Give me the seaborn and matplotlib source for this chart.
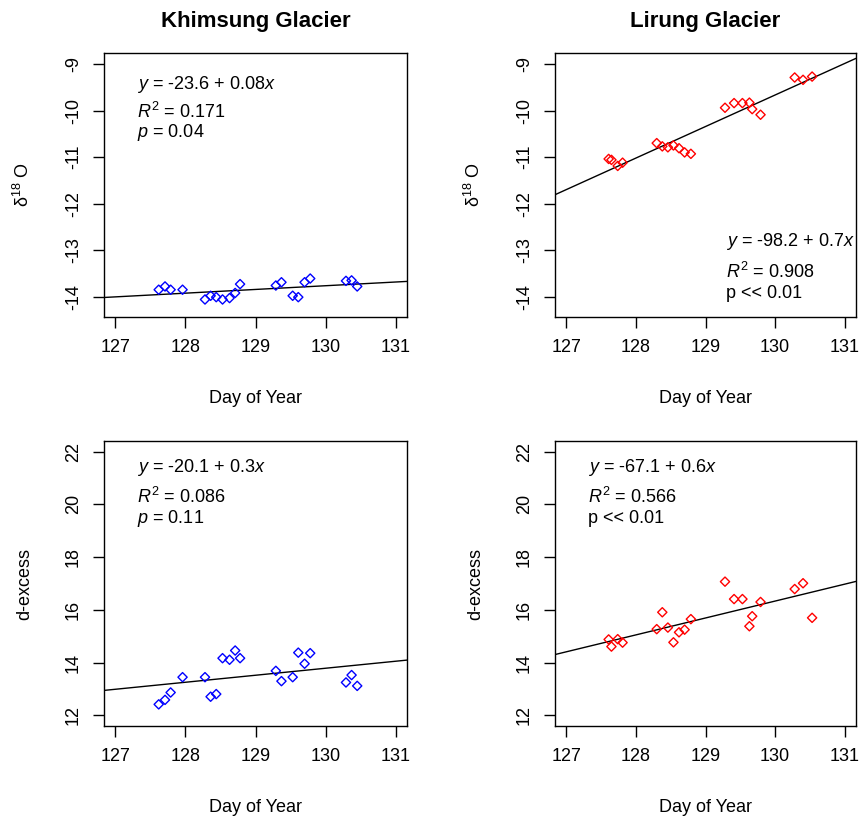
import matplotlib
matplotlib.use("Agg")
import matplotlib.pyplot as plt
import pandas as pd
import seaborn as sns

sns.set_style("white")
plt.rcParams["font.family"] = ["Liberation Sans", "DejaVu Sans"]
plt.rcParams["mathtext.fontset"] = "custom"
plt.rcParams["mathtext.rm"] = "Liberation Sans"
plt.rcParams["mathtext.it"] = "Liberation Sans:italic"
plt.rcParams["mathtext.bf"] = "Liberation Sans:bold"
plt.rcParams["axes.unicode_minus"] = False
for key in ["text.color", "axes.labelcolor", "xtick.color", "ytick.color",
            "axes.edgecolor"]:
    plt.rcParams[key] = "black"

# Sampling times (day of year)
khimsung_day = [127.62, 127.71, 127.79, 127.96,
                128.28, 128.36, 128.44, 128.53, 128.63, 128.71, 128.78,
                129.29, 129.37, 129.53, 129.61, 129.70, 129.78,
                130.29, 130.37, 130.45]
lirung_day = [127.61, 127.65, 127.74, 127.81,
              128.30, 128.38, 128.46, 128.54, 128.62, 128.70, 128.79,
              129.28, 129.41, 129.53, 129.63, 129.67, 129.79,
              130.28, 130.40, 130.53]

# delta 18O (permil)
khimsung_d18o = [-13.85, -13.78, -13.85, -13.85,
                 -14.06, -13.98, -14.01, -14.06, -14.03, -13.92, -13.73,
                 -13.76, -13.69, -13.98, -14.01, -13.69, -13.61,
                 -13.66, -13.65, -13.78]
lirung_d18o = [-11.04, -11.06, -11.19, -11.12,
               -10.70, -10.77, -10.79, -10.75, -10.81, -10.90, -10.93,
               -9.94, -9.84, -9.84, -9.83, -9.97, -10.09,
               -9.29, -9.34, -9.27]

# deuterium excess (permil)
khimsung_dexcess = [12.42, 12.59, 12.87, 13.45,
                    13.45, 12.71, 12.81, 14.17, 14.11, 14.46, 14.17,
                    13.69, 13.30, 13.45, 14.38, 13.96, 14.36,
                    13.25, 13.53, 13.12]
lirung_dexcess = [14.88, 14.61, 14.89, 14.76,
                  15.27, 15.91, 15.33, 14.77, 15.15, 15.25, 15.65,
                  17.07, 16.41, 16.41, 15.38, 15.76, 16.30,
                  16.79, 17.01, 15.70]

titles = ["Khimsung Glacier", "Lirung Glacier"]
colors = ["#0000FF", "#FF0000"]

stats = {
    (0, 0): [r"$y$ = -23.6 + 0.08$x$", r"$R^2$ = 0.171", r"$p$ = 0.04"],
    (0, 1): [r"$y$ = -98.2 + 0.7$x$", r"$R^2$ = 0.908", "p << 0.01"],
    (1, 0): [r"$y$ = -20.1 + 0.3$x$", r"$R^2$ = 0.086", r"$p$ = 0.11"],
    (1, 1): [r"$y$ = -67.1 + 0.6$x$", r"$R^2$ = 0.566", "p << 0.01"],
}
stat_pos = {
    (0, 0): (0.108, [0.866, 0.756, 0.683]),
    (0, 1): (0.568, [0.268, 0.146, 0.072]),
    (1, 0): (0.110, [0.892, 0.781, 0.711]),
    (1, 1): (0.111, [0.892, 0.781, 0.711]),
}

frames = {
    (0, 0): pd.DataFrame({"day": khimsung_day, "val": khimsung_d18o}),
    (0, 1): pd.DataFrame({"day": lirung_day, "val": lirung_d18o}),
    (1, 0): pd.DataFrame({"day": khimsung_day, "val": khimsung_dexcess}),
    (1, 1): pd.DataFrame({"day": lirung_day, "val": lirung_dexcess}),
}

W, H = 861, 819
fig = plt.figure(figsize=(W / 100, H / 100), dpi=100)

col_x = [(104, 407), (555, 856)]
row_y = [(53.3, 316.7), (441, 726)]
ylims = [(-14.43, -8.77), (11.6, 22.4)]
yticks = [[-14, -13, -12, -11, -10, -9], [12, 14, 16, 18, 20, 22]]
ylabels = [r"δ$^{18}$ O", "d-excess"]

for r in range(2):
    for c in range(2):
        x0, x1 = col_x[c]
        y0, y1 = row_y[r]
        ax = fig.add_axes([x0 / W, 1 - y1 / H, (x1 - x0) / W, (y1 - y0) / H])
        ax.set_xlim(126.84, 131.16)
        ax.set_ylim(*ylims[r])
        df = frames[(r, c)]
        sns.regplot(data=df, x="day", y="val", ax=ax, ci=None, truncate=False,
                    marker="D",
                    scatter_kws=dict(facecolors="none", edgecolors=colors[c],
                                     s=22, linewidths=1.0, alpha=1, zorder=3),
                    line_kws=dict(color="black", lw=1.0, zorder=2))
        ax.set_xlim(126.84, 131.16)
        ax.set_ylim(*ylims[r])
        ax.set_xticks([127, 128, 129, 130, 131])
        ax.set_yticks(yticks[r])
        ax.tick_params(axis="both", direction="out", length=8, width=1,
                       color="black", labelcolor="black", labelsize=13, pad=8,
                       bottom=True, left=True)
        for lab in ax.get_yticklabels():
            lab.set_rotation(90)
            lab.set_va("center")
        for sp in ax.spines.values():
            sp.set_color("black")
            sp.set_linewidth(1)
        h = y1 - y0
        ax.set_xlabel("Day of Year", fontsize=13, color="black")
        ax.xaxis.set_label_coords(0.5, -73.5 / h)
        ax.set_ylabel(ylabels[r], fontsize=13, color="black")
        ax.yaxis.set_label_coords(-(104 - 33) / (x1 - x0), 0.5)
        tx, tys = stat_pos[(r, c)]
        for txt, ty in zip(stats[(r, c)], tys):
            ax.text(tx, ty, txt, transform=ax.transAxes, fontsize=13,
                    color="black", va="baseline", ha="left")
        if r == 0:
            ax.text(0.5, (y1 - 26.7) / h, titles[c], transform=ax.transAxes,
                    fontsize=16, fontweight="bold", color="black",
                    ha="center", va="baseline")

fig.savefig("out.png", dpi=100)
